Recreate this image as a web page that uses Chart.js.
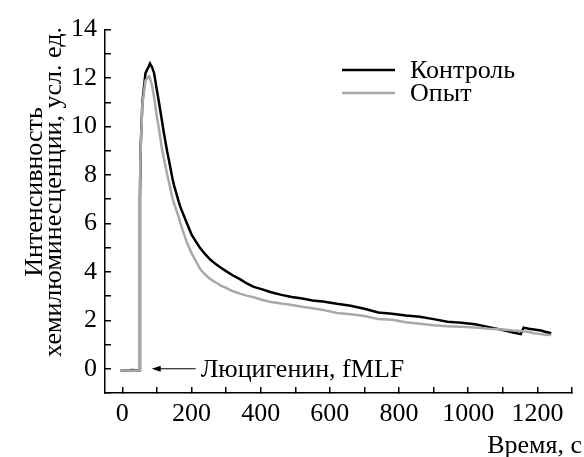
<!DOCTYPE html>
<html>
<head>
<meta charset="utf-8">
<script src="https://cdn.jsdelivr.net/npm/chart.js@4"></script>
<style>
  html, body { margin: 0; padding: 0; background: #fff; }
</style>
</head>
<body>
<canvas id="chart" width="584" height="457"></canvas>
<script>
// time, s
const times = [-5, 10, 30, 48, 50, 51, 53, 58, 67, 77, 80, 86, 92, 100, 106, 115, 120, 130, 135, 145,
  150, 163, 168, 187, 200, 215, 225, 240, 255, 270, 285, 300, 320, 340, 360, 380, 400, 430, 460, 490,
  520, 550, 580, 620, 660, 700, 740, 780, 820, 860, 900, 940, 980, 1020, 1060, 1100, 1130, 1152, 1160,
  1175, 1190, 1210, 1225, 1240];
const control = [-0.07, -0.07, -0.05, -0.07, -0.05, 7.0, 9.1, 11.0, 12.2, 12.5, 12.6, 12.45, 12.2, 11.5,
  11.0, 10.2, 9.75, 8.95, 8.6, 7.85, 7.55, 6.9, 6.67, 6.0, 5.55, 5.2, 4.98, 4.72, 4.5, 4.32, 4.17, 4.03,
  3.85, 3.7, 3.52, 3.38, 3.3, 3.16, 3.05, 2.96, 2.9, 2.82, 2.78, 2.68, 2.6, 2.48, 2.32, 2.27, 2.2, 2.15,
  2.05, 1.94, 1.9, 1.84, 1.72, 1.6, 1.5, 1.43, 1.7, 1.65, 1.62, 1.58, 1.52, 1.47];
const experiment = [-0.07, -0.07, -0.07, -0.07, -0.05, 7.7, 9.0, 10.9, 11.9, 12.07, 12.0, 11.7, 11.2,
  10.4, 9.9, 9.05, 8.7, 8.0, 7.7, 7.05, 6.8, 6.27, 6.0, 5.2, 4.78, 4.38, 4.12, 3.88, 3.7, 3.56, 3.43,
  3.34, 3.2, 3.1, 3.02, 2.95, 2.86, 2.76, 2.69, 2.63, 2.56, 2.5, 2.43, 2.3, 2.25, 2.18, 2.05, 2.02, 1.92,
  1.86, 1.8, 1.76, 1.73, 1.7, 1.65, 1.62, 1.58, 1.56, 1.55, 1.52, 1.47, 1.43, 1.4, 1.39];

const seriesLabels = ['Контроль', 'Опыт'];
const xTickLabels = [0, 200, 400, 600, 800, 1000, 1200];
const yTickLabels = [0, 2, 4, 6, 8, 10, 12, 14];
const xTitle = 'Время, с';
const yTitle = ['Интенсивность', 'хемилюминесценции, усл. ед.'];
const note = 'Люцигенин, fMLF';
const noteArrow = [85, 212]; // s, arrow from-to along y = 0

const FONT = '"Liberation Serif", "Times New Roman", serif';
const FS = 26;

const overlay = {
  id: 'overlay',
  afterDraw(chart) {
    const { ctx } = chart;
    const x = chart.scales.x, y = chart.scales.y;
    ctx.save();
    ctx.fillStyle = '#000';
    ctx.font = FS + 'px ' + FONT;

    // y title
    ctx.save();
    ctx.translate(35, 192);
    ctx.rotate(-Math.PI / 2);
    ctx.textAlign = 'center';
    ctx.textBaseline = 'middle';
    ctx.fillText(yTitle[0], 0, 0);
    ctx.fillText(yTitle[1], 0, 19);
    ctx.restore();

    // x title
    ctx.textAlign = 'right';
    ctx.textBaseline = 'alphabetic';
    ctx.fillText(xTitle, 582, 453);

    // legend
    const colors = ['#000', '#a9a9a9'];
    ctx.textAlign = 'left';
    ctx.textBaseline = 'middle';
    seriesLabels.forEach((lab, i) => {
      const ly = 70 + i * 23;
      ctx.strokeStyle = colors[i];
      ctx.lineWidth = 2.5;
      ctx.beginPath();
      ctx.moveTo(342, ly);
      ctx.lineTo(395, ly);
      ctx.stroke();
      ctx.fillText(lab, 410, ly + 1);
    });

    // annotation arrow
    const ay = y.getPixelForValue(0);
    const ax1 = x.getPixelForValue(noteArrow[0]);
    const ax2 = x.getPixelForValue(noteArrow[1]);
    ctx.strokeStyle = '#000';
    ctx.lineWidth = 1;
    ctx.beginPath();
    ctx.moveTo(ax1 + 6, ay);
    ctx.lineTo(ax2, ay);
    ctx.stroke();
    ctx.beginPath();
    ctx.moveTo(ax1, ay);
    ctx.lineTo(ax1 + 9, ay - 3);
    ctx.lineTo(ax1 + 9, ay + 3);
    ctx.closePath();
    ctx.fill();
    ctx.textAlign = 'left';
    ctx.fillText(note, ax2 + 5, ay + 1);
    ctx.restore();
  }
};

const tickFont = { family: FONT, size: FS };

new Chart(document.getElementById('chart'), {
  type: 'line',
  data: {
    datasets: [
      {
        label: seriesLabels[0],
        data: times.map((t, i) => ({ x: t, y: control[i] })),
        borderColor: '#000',
        borderWidth: 2.5,
        order: 1
      },
      {
        label: seriesLabels[1],
        data: times.map((t, i) => ({ x: t, y: experiment[i] })),
        borderColor: '#a9a9a9',
        borderWidth: 2.5,
        order: 0
      }
    ]
  },
  options: {
    responsive: false,
    animation: false,
    devicePixelRatio: 1,
    layout: { padding: { left: 0, top: 15, right: 11, bottom: 0 } },
    elements: { point: { radius: 0 }, line: { tension: 0 } },
    plugins: { legend: { display: false }, tooltip: { enabled: false } },
    scales: {
      x: {
        type: 'linear',
        min: -50,
        max: 1300,
        afterFit: s => { s.height = 64; },
        border: { color: '#000', width: 1.5 },
        grid: { drawOnChartArea: false, tickLength: -6, color: '#000', lineWidth: 1.5 },
        ticks: {
          stepSize: 100,
          includeBounds: false,
          autoSkip: false,
          maxRotation: 0,
          padding: 12,
          color: '#000',
          font: tickFont,
          callback: v => xTickLabels.includes(v) ? String(v) : ''
        }
      },
      y: {
        type: 'linear',
        min: -1,
        max: 14,
        afterFit: s => { s.width = 105; },
        border: { color: '#000', width: 1.5 },
        grid: { drawOnChartArea: false, tickLength: -6, color: '#000', lineWidth: 1.5 },
        ticks: {
          stepSize: 1,
          autoSkip: false,
          padding: 14,
          color: '#000',
          font: tickFont,
          callback: v => yTickLabels.includes(v) ? String(v) : ''
        }
      }
    }
  },
  plugins: [overlay]
});
</script>
</body>
</html>
